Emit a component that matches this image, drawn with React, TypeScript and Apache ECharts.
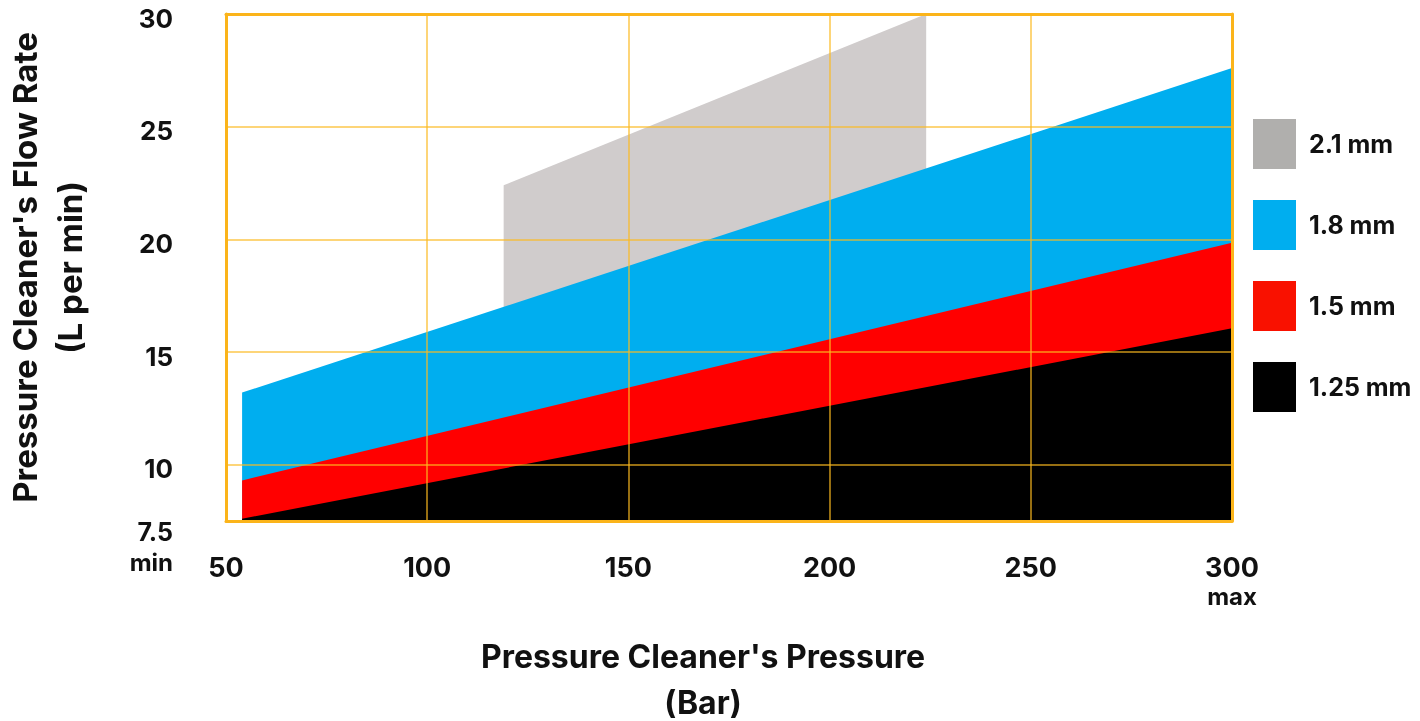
import React, { useEffect, useRef } from "react";
import * as echarts from "echarts";

// Data (x = pressure in bar, y = flow rate in L/min)
const seriesNames = ["2.1 mm", "1.8 mm", "1.5 mm", "1.25 mm"];
const gray21: [number, number][] = [[119, 22.4], [224, 30]];
const blue18: [number, number][] = [[54, 13.2], [300, 27.6]];
const red15: [number, number][] = [[54, 9.3], [300, 19.85]];
const black125: [number, number][] = [[54, 7.6], [300, 16.05]];
const xTicks = [50, 100, 150, 200, 250, 300];
const yTicks = [7.5, 10, 15, 20, 25, 30];

const areaColors = ["#d0cccc", "#00aeef", "#ff0000", "#000000"];
const legendColors = ["#b0afad", "#00aeef", "#f91100", "#000000"];

const FONT = "Inter";
const BORDER = "#fbb41a";
const GRIDLINE = "rgba(252,186,30,0.8)";
const TXT = "#111";

export default function App() {
  const ref = useRef<HTMLDivElement>(null);
  useEffect(() => {
    if (!ref.current) return;
    const chart = echarts.init(ref.current, undefined, { renderer: "svg" });
    const datasets = [gray21, blue18, red15, black125];
    const series = datasets.map((d, i) => ({
      name: seriesNames[i],
      type: "line",
      data: d,
      showSymbol: false,
      symbol: "none",
      lineStyle: { width: 0, opacity: 0 },
      itemStyle: { color: legendColors[i] },
      areaStyle: { color: areaColors[i], opacity: 1, origin: "start" },
      z: 2 + i,
      silent: true,
    }));
    const axisLineStyle = { color: BORDER, width: 3 };
    chart.setOption({
      animation: false,
      textStyle: { fontFamily: FONT },
      grid: {
        left: 226,
        right: 188,
        top: 14,
        bottom: 200,
        containLabel: false,
        outerBoundsMode: "none",
      },
      legend: {
        orient: "vertical",
        left: 1248,
        top: 114,
        itemWidth: 43,
        itemHeight: 50,
        itemGap: 31,
        icon: "rect",
        data: seriesNames.map((n, i) => ({ name: n, itemStyle: { color: legendColors[i] } })),
        textStyle: { fontFamily: FONT, fontSize: 25, fontWeight: "bold", color: TXT, padding: [0, 0, 0, 8] },
        selectedMode: false,
      },
      xAxis: [
        {
          type: "value",
          min: 50,
          max: 300,
          interval: 50,
          z: 10,
          axisLine: { show: true, lineStyle: axisLineStyle },
          axisTick: { show: false },
          splitLine: { show: true, lineStyle: { color: GRIDLINE, width: 1.5 } },
          axisLabel: {
            margin: 31,
            fontSize: 27,
            fontWeight: "bold",
            color: TXT,
            lineHeight: 30,
            formatter: (v: number) => (v === xTicks[xTicks.length - 1] ? `${v}\n{m|max}` : `${v}`),
            rich: { m: { fontSize: 24, fontWeight: "bold", color: TXT, lineHeight: 28, fontFamily: FONT } },
          },
          name: "Pressure Cleaner's Pressure\n(Bar)",
          nameLocation: "middle",
          nameGap: 112,
          nameTextStyle: {
            fontSize: 32,
            fontWeight: "bold",
            color: TXT,
            lineHeight: 46,
            padding: [0, 52, 0, 0],
          },
        },
        {
          type: "value",
          position: "top",
          min: 50,
          max: 300,
          interval: 50,
          z: 10,
          axisLine: { show: true, lineStyle: axisLineStyle },
          axisTick: { show: false },
          axisLabel: { show: false },
          splitLine: { show: false },
        },
      ],
      yAxis: [
        {
          type: "value",
          min: 7.5,
          max: 30,
          interval: 2.5,
          z: 10,
          axisLine: { show: true, onZero: false, lineStyle: axisLineStyle },
          axisTick: { show: false },
          splitLine: {
            show: true,
            lineStyle: { color: ["rgba(0,0,0,0)", GRIDLINE], width: 1.5 },
          },
          axisLabel: {
            margin: 53,
            fontSize: 26,
            fontWeight: "bold",
            color: TXT,
            padding: [8, 0, 0, 0],
            formatter: (v: number) => {
              if (v === yTicks[0]) return `{e| }\n{v|${v}}\n{m|min}`;
              return yTicks.indexOf(v) >= 0 ? `${v}` : "";
            },
            rich: {
              e: { lineHeight: 44, fontSize: 10, fontFamily: FONT },
              v: { fontSize: 25, fontWeight: "bold", color: TXT, lineHeight: 30, fontFamily: FONT },
              m: { fontSize: 24, fontWeight: "bold", color: TXT, lineHeight: 30, fontFamily: FONT },
            },
          },
          name: "Pressure Cleaner's Flow Rate\n(L per min)",
          nameLocation: "middle",
          nameGap: 134,
          nameRotate: 90,
          nameTextStyle: {
            fontSize: 33,
            fontWeight: "bold",
            color: TXT,
            lineHeight: 45,
          },
        },
        {
          type: "value",
          position: "right",
          min: 7.5,
          max: 30,
          interval: 2.5,
          z: 10,
          axisLine: { show: true, onZero: false, lineStyle: axisLineStyle },
          axisTick: { show: false },
          axisLabel: { show: false },
          splitLine: { show: false },
        },
      ],
      series,
    });
    return () => chart.dispose();
  }, []);
  return (
    <div
      ref={ref}
      style={{ position: "fixed", left: 0, top: 0, width: 1420, height: 721 }}
    />
  );
}
